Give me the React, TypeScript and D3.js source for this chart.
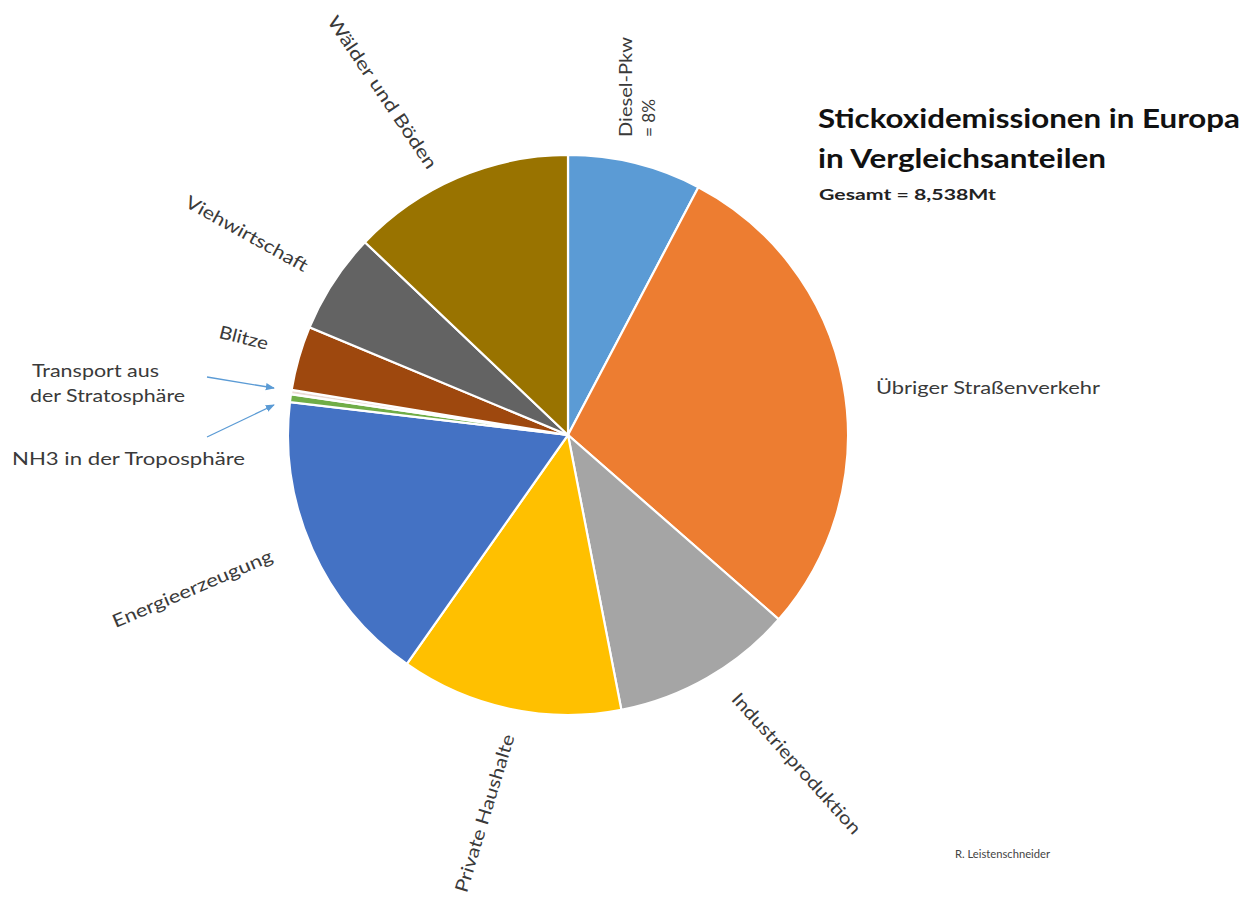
import * as d3 from "d3";

const categories = [
  "Diesel-Pkw",
  "Übriger Straßenverkehr",
  "Industrieproduktion",
  "Private Haushalte",
  "Energieerzeugung",
  "NH3 in der Troposphäre",
  "Transport aus der Stratosphäre",
  "Blitze",
  "Viehwirtschaft",
  "Wälder und Böden",
];
// shares in percent
const shares = [7.7, 28.7, 10.5, 12.8, 17.1, 0.45, 0.25, 3.7, 5.8, 12.9];
const colors = [
  "#5B9BD5", "#ED7D31", "#A5A5A5", "#FFC000", "#4472C4",
  "#70AD47", "#EADBD4", "#9E480E", "#636363", "#997300",
];

const titleLines = ["Stickoxidemissionen in Europa", "in Vergleichsanteilen"];
const subtitle = "Gesamt = 8,538Mt";
const credit = "R. Leistenschneider";

// label placement (relative to pie centre): dx, dy, rotation, text length
const labelLayout: Record<string, { dx: number; dy: number; rot: number; len: number; anchor?: string }> = {
  "Übriger Straßenverkehr": { dx: 308, dy: -48, rot: 0, len: 224, anchor: "start" },
  "Industrieproduktion": { dx: 229, dy: 328, rot: 48, len: 183 },
  "Private Haushalte": { dx: -84, dy: 378, rot: -73, len: 164 },
  "Energieerzeugung": { dx: -376, dy: 153, rot: -23, len: 172 },
  "Blitze": { dx: -324, dy: -98, rot: 14, len: 50 },
  "Viehwirtschaft": { dx: -321, dy: -202, rot: 29, len: 137 },
  "Wälder und Böden": { dx: -185, dy: -343, rot: 56, len: 180 },
};

const width = 1246;
const height = 899;
const cx = 568;
const cy = 435;
const radius = 280;
const font = "Lato, 'Open Sans', sans-serif";
const labelColor = "#3a3a3a";
const fs = 18;

export default function App() {
  const data = categories.map((c, i) => ({ name: c, value: shares[i], color: colors[i] }));
  const pie = d3.pie<typeof data[number]>().sort(null).value(d => d.value);
  const arcs = pie(data);
  const arc = d3.arc<d3.PieArcDatum<typeof data[number]>>().innerRadius(0).outerRadius(radius);

  return (
    <svg
      width={width}
      height={height}
      style={{ position: "absolute", left: 0, top: 0, background: "#fff" }}
      fontFamily={font}
    >
      <defs>
        <marker id="arr" viewBox="0 0 10 10" refX="9" refY="5" markerWidth="7" markerHeight="7" orient="auto">
          <path d="M0,1 L10,5 L0,9 z" fill="#5B9BD5" />
        </marker>
      </defs>

      <g transform={`translate(${cx},${cy})`}>
        {arcs.map(a => (
          <path key={a.data.name} d={arc(a) ?? ""} fill={a.data.color} stroke="#fff" strokeWidth={2.2} />
        ))}

        {/* rotated category labels */}
        {Object.entries(labelLayout).map(([name, l]) => (
          <text
            key={name}
            transform={`translate(${l.dx},${l.dy}) rotate(${l.rot})`}
            textAnchor={l.anchor ?? "middle"}
            dominantBaseline="central"
            fontSize={fs}
            fill={labelColor}
            textLength={l.len}
            lengthAdjust="spacingAndGlyphs"
          >
            {name}
          </text>
        ))}

        {/* Diesel label, two lines rotated */}
        <text transform={`translate(${64},${-298}) rotate(-90)`} fontSize={fs} fill={labelColor}>
          <tspan x={0} y={0} textLength={100} lengthAdjust="spacingAndGlyphs">Diesel-Pkw</tspan>
          <tspan x={0} y={23} textLength={38} lengthAdjust="spacingAndGlyphs">= 8%</tspan>
        </text>
      </g>

      {/* small slices with arrows */}
      <text fontSize={fs} fill={labelColor}>
        <tspan x={32} y={377} textLength={127} lengthAdjust="spacingAndGlyphs">Transport aus</tspan>
        <tspan x={30} y={402} textLength={155} lengthAdjust="spacingAndGlyphs">der Stratosphäre</tspan>
      </text>
      <text x={12} y={465} fontSize={fs} fill={labelColor} textLength={233} lengthAdjust="spacingAndGlyphs">
        NH3 in der Troposphäre
      </text>
      <line x1={207} y1={377} x2={274} y2={388} stroke="#5B9BD5" strokeWidth={1.3} markerEnd="url(#arr)" />
      <line x1={207} y1={437} x2={274} y2={405} stroke="#5B9BD5" strokeWidth={1.3} markerEnd="url(#arr)" />

      {/* title block */}
      <text x={818} y={128} fontSize={27} fontWeight={700} fill="#111" textLength={422} lengthAdjust="spacingAndGlyphs">
        {titleLines[0]}
      </text>
      <text x={818} y={168} fontSize={27} fontWeight={700} fill="#111" textLength={288} lengthAdjust="spacingAndGlyphs">
        {titleLines[1]}
      </text>
      <text x={819} y={200} fontSize={15} fontWeight={700} fill="#222" textLength={177} lengthAdjust="spacingAndGlyphs">
        {subtitle}
      </text>

      <text x={955} y={858} fontSize={10.5} fill="#444" textLength={95} lengthAdjust="spacingAndGlyphs">{credit}</text>
    </svg>
  );
}
